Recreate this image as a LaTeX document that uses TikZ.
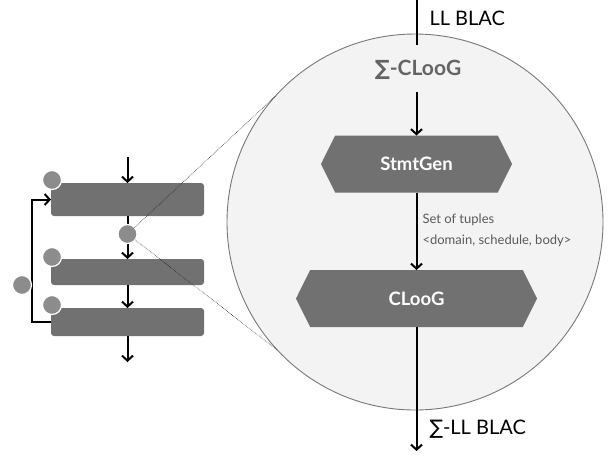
\documentclass[tikz,border=0pt]{standalone}
\usepackage{fontspec}
\setmainfont{Lato}
\newfontfamily\djv{DejaVu Sans}
\usetikzlibrary{arrows.meta,shapes.symbols}
\definecolor{boxgray}{RGB}{113,113,113}
\definecolor{dotgray}{RGB}{140,140,140}
\definecolor{bigfill}{RGB}{243,243,243}
\definecolor{bigline}{RGB}{120,120,120}
\definecolor{titlegray}{RGB}{100,100,100}
\definecolor{labelgray}{RGB}{90,90,90}
\begin{document}
\begin{tikzpicture}[x=1pt,y=-1pt,
  flow/.style={line width=2pt,-{Straight Barb[length=5pt,width=11pt]}},
  plainline/.style={line width=2pt},
  bar/.style={rectangle, rounded corners=3pt, fill=boxgray, minimum width=153pt, inner sep=0pt, outer sep=0pt},
  dotc/.style={circle, fill=dotgray, draw=white, line width=1.2pt, minimum size=19pt, inner sep=0pt, outer sep=0pt},
  hexbox/.style={signal, signal to=west and east, signal pointer angle=127, fill=boxgray, minimum height=57pt, inner sep=0pt, outer sep=0pt, text=white, font=\bfseries\fontsize{18.5}{22}\selectfont},
  zoomline/.style={densely dotted, line width=0.6pt, black!85},
]
\useasboundingbox (0,0) rectangle (611,456);

% big zoom circle
\node[circle, minimum size=376pt, fill=bigfill, draw=bigline, line width=0.9pt, inner sep=0pt, outer sep=0pt] (big) at (415,222) {};

% main flow
\coordinate (t0) at (416.5,0);
\coordinate (t1) at (416.5,45);
\coordinate (a0) at (416.5,92);
\coordinate (bend) at (416.5,451);
\node[anchor=west, font=\fontsize{20}{24}\selectfont] (inlbl) at (426,18) {LL BLAC};
\node[text=titlegray, font=\bfseries\fontsize{21}{24}\selectfont] (sig) at (418,70) {{\djv\bfseries ∑}-CLooG};
\node[hexbox, minimum width=191pt] (stmt) at (416.5,164) {StmtGen};
\node[hexbox, minimum width=241pt] (cloog) at (416.5,298.5) {CLooG};
\node[anchor=west, align=left, text=labelgray, font=\fontsize{13}{21}\selectfont] (tup) at (419,230) {Set of tuples\\<domain, schedule, body>};
\node[anchor=west, font=\fontsize{20}{24}\selectfont] (outlbl) at (426,429) {{\djv ∑}-LL BLAC};

\draw[plainline] (t0) -- (t1);
\draw[flow] (a0) -- (stmt.north);
\draw[flow] (stmt.south) -- (cloog.north);
\draw[flow] (cloog.south) -- (bend);

% left pipeline
\node[bar, minimum height=33pt] (r1) at (127.5,199.5) {};
\node[bar, minimum height=26pt] (r2) at (127.5,272) {};
\node[bar, minimum height=28pt] (r3) at (127.5,322) {};
\coordinate (lin) at (127.5,157);
\coordinate (lout) at (127.5,362);
\draw[flow] (lin) -- (r1.north);
\draw[flow] (r1.south) -- (r2.north);
\draw[flow] (r2.south) -- (r3.north);
\draw[flow] (r3.south) -- (lout);
\draw[flow] (r3.west) -- ++(-19,0) |- (r1.west);

% markers
\node[dotc] (c1) at (52,180) {};
\node[dotc] (c2) at (52,257) {};
\node[dotc] (c3) at (52,305) {};
\node[dotc] (cl) at (22,285) {};
\node[dotc] (cm) at (127.5,234) {};

% zoom lines
\draw[zoomline] (cm) -- (big.138.6);
\draw[zoomline] (cm) -- (big.223);
\end{tikzpicture}
\end{document}
